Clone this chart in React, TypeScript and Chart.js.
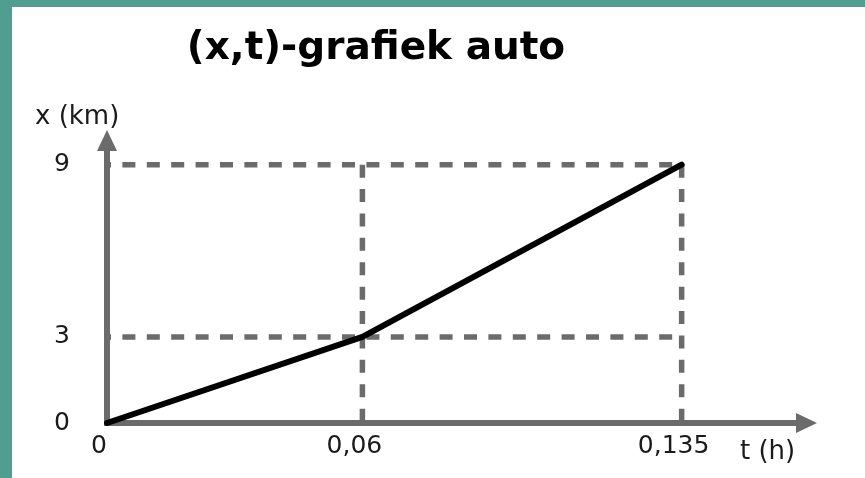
import React, { useEffect, useRef } from 'react';
import { Chart, registerables } from 'chart.js';

Chart.register(...registerables);

// ---- text ----
const TITLE = '(x,t)-grafiek auto';
const Y_TITLE = 'x (km)';
const X_TITLE = 't (h)';

// ---- data ----
const T_VALUES = [0, 0.06, 0.135]; // t (h)
const X_VALUES = [0, 3, 9]; // x (km)

const X_TICKS = [0, 0.06, 0.135];
const X_TICK_LABELS = ['0', '0,06', '0,135'];
const Y_TICKS = [0, 3, 9];
const Y_TICK_LABELS = ['0', '3', '9'];

const GUIDE_T = [0.06, 0.135];
const GUIDE_X = [3, 9];

const T_MIN = 0;
const T_MAX = 0.1621;
const X_MIN = 0;
const X_MAX = 9.51;

// ---- style ----
const FONT = 'DejaVu Sans';
const AXIS_COLOR = '#6b6b6b';
const TEXT_COLOR = '#1a1a1a';
const GUIDE_OVERHANG = 0.32;

const decorPlugin = {
  id: 'decor',
  beforeDatasetsDraw(chart: any) {
    const { ctx, chartArea } = chart;
    const { left, right, top, bottom } = chartArea;
    ctx.save();
    ctx.fillStyle = AXIS_COLOR;
    // x arrow head
    ctx.beginPath();
    ctx.moveTo(right - 1, bottom - 10);
    ctx.lineTo(right + 20, bottom);
    ctx.lineTo(right - 1, bottom + 10);
    ctx.closePath();
    ctx.fill();
    // y arrow head
    ctx.beginPath();
    ctx.moveTo(left - 10, top + 1);
    ctx.lineTo(left, top - 20);
    ctx.lineTo(left + 10, top + 1);
    ctx.closePath();
    ctx.fill();
    ctx.restore();
  },
  afterDraw(chart: any) {
    const { ctx, chartArea } = chart;
    const { left, right, top, bottom } = chartArea;
    ctx.save();
    ctx.fillStyle = '#000';
    ctx.textBaseline = 'alphabetic';
    ctx.textAlign = 'center';
    ctx.font = `bold 39px "${FONT}"`;
    ctx.fillText(TITLE, left + 269, 59);
    ctx.fillStyle = TEXT_COLOR;
    ctx.textAlign = 'left';
    ctx.font = `26px "${FONT}"`;
    ctx.fillText(Y_TITLE, left - 72, top - 26);
    ctx.fillText(X_TITLE, right - 57, bottom + 36);
    ctx.restore();
  },
};

export default function App() {
  const ref = useRef<HTMLCanvasElement | null>(null);

  useEffect(() => {
    if (!ref.current) return;
    const lineData = T_VALUES.map((t, i) => ({ x: t, y: X_VALUES[i] }));
    const tEnd = Math.max(...GUIDE_T);
    const xEnd = Math.max(...GUIDE_X);
    const guideSets: any[] = [];
    GUIDE_X.forEach((g) => {
      guideSets.push({
        data: [
          { x: T_MIN, y: g },
          { x: tEnd, y: g },
        ],
        borderColor: AXIS_COLOR,
        borderWidth: 5.5,
        borderDash: [13, 11.4],
        borderDashOffset: 9,
        pointRadius: 0,
        order: 1,
        clip: false,
      });
    });
    GUIDE_T.forEach((g) => {
      guideSets.push({
        data: [
          { x: g, y: xEnd },
          { x: g, y: X_MIN - GUIDE_OVERHANG },
        ],
        borderColor: AXIS_COLOR,
        borderWidth: 5.5,
        borderDash: [13, 11.4],
        borderDashOffset: 0,
        pointRadius: 0,
        order: 1,
        clip: false,
      });
    });

    const chart = new Chart(ref.current, {
      type: 'line',
      data: {
        datasets: [
          {
            data: lineData,
            borderColor: '#000',
            borderWidth: 6,
            borderJoinStyle: 'round',
            borderCapStyle: 'round',
            pointRadius: 0,
            tension: 0,
            order: 0,
            clip: false,
          } as any,
          ...guideSets,
        ],
      },
      options: {
        responsive: false,
        maintainAspectRatio: false,
        animation: false,
        layout: { padding: { top: 150, right: 68, bottom: 0, left: 0 } },
        plugins: {
          legend: { display: false },
          tooltip: { enabled: false },
          title: { display: false },
        },
        scales: {
          x: {
            type: 'linear',
            min: T_MIN,
            max: T_MAX,
            grid: { display: false, drawTicks: false },
            border: { display: true, color: AXIS_COLOR, width: 6 },
            ticks: {
              font: { family: FONT, size: 25 },
              color: TEXT_COLOR,
              padding: 8,
              labelOffset: -8,
              autoSkip: false,
              maxRotation: 0,
              callback: (_v: any, i: number) => X_TICK_LABELS[i],
            },
            afterBuildTicks: (s: any) => {
              s.ticks = X_TICKS.map((value) => ({ value }));
            },
            afterFit: (s: any) => {
              s.height = 55;
            },
          },
          y: {
            type: 'linear',
            min: X_MIN,
            max: X_MAX,
            grid: { display: false, drawTicks: false },
            border: { display: true, color: AXIS_COLOR, width: 6 },
            ticks: {
              font: { family: FONT, size: 25 },
              color: TEXT_COLOR,
              padding: 37,
              autoSkip: false,
              callback: (_v: any, i: number) => Y_TICK_LABELS[i],
            },
            afterBuildTicks: (s: any) => {
              s.ticks = Y_TICKS.map((value) => ({ value }));
            },
            afterFit: (s: any) => {
              s.width = 107;
            },
          },
        },
      } as any,
      plugins: [decorPlugin],
    });
    return () => chart.destroy();
  }, []);

  return (
    <div
      style={{
        position: 'fixed',
        left: 0,
        top: 0,
        width: 865,
        height: 478,
        background: '#4f9e8f',
        overflow: 'hidden',
      }}
    >
      <div
        style={{
          position: 'absolute',
          left: 12,
          top: 7,
          right: 0,
          bottom: 0,
          background: '#ffffff',
        }}
      />
      <canvas
        ref={ref}
        width={865}
        height={478}
        style={{ position: 'absolute', left: 0, top: 0, width: 865, height: 478 }}
      />
    </div>
  );
}
